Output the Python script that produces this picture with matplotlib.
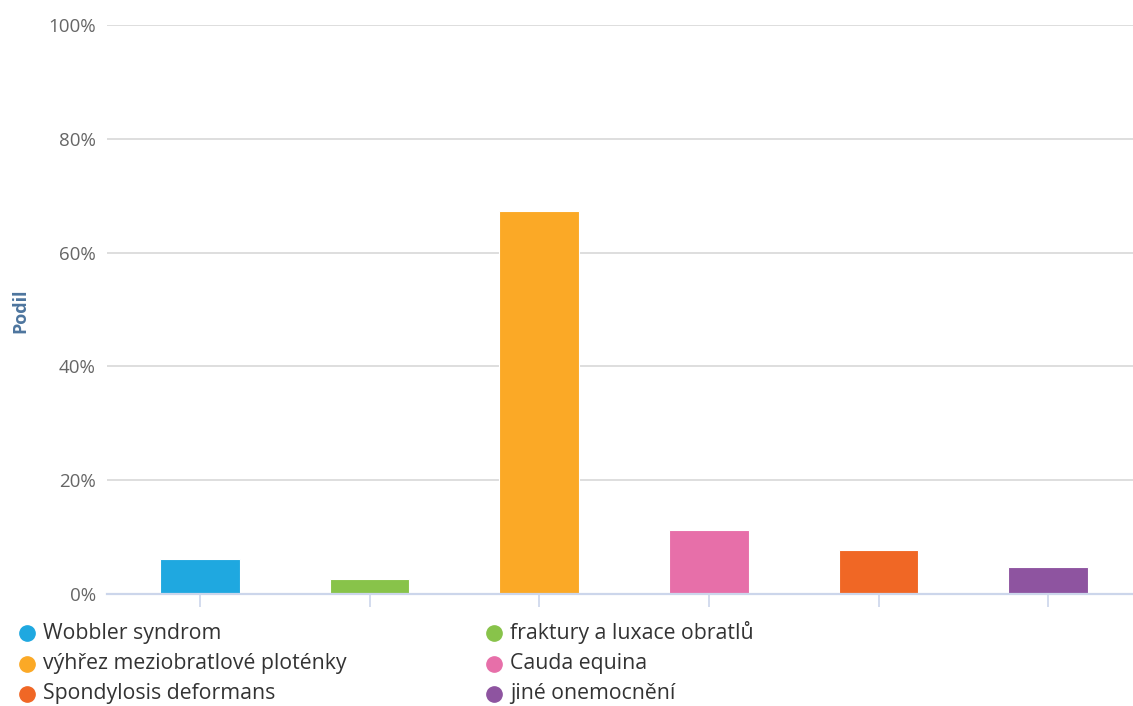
import matplotlib
matplotlib.use("Agg")
import matplotlib.pyplot as plt
from matplotlib.lines import Line2D

categories = ["Wobbler syndrom", "fraktury a luxace obratlů", "výhřez meziobratlové ploténky",
              "Cauda equina", "Spondylosis deformans", "jiné onemocnění"]
values = [6.1, 2.6, 67.3, 11.2, 7.7, 4.7]
colors = ["#1fa8e0", "#88c34a", "#fba926", "#e76fa9", "#f06725", "#8e54a0"]
yticks = [0, 20, 40, 60, 80, 100]
ytick_labels = ["0%", "20%", "40%", "60%", "80%", "100%"]

plt.rcParams['font.family'] = ['Open Sans', 'DejaVu Sans']

W, H = 1133, 706
fig = plt.figure(figsize=(W / 100, H / 100), dpi=100)
ax = fig.add_axes([107 / W, 1 - 594 / H, (1133 - 107) / W, (594 - 25) / H])

x = list(range(len(categories)))
ax.bar(x, values, width=0.47, color=colors, edgecolor="white", linewidth=0.8, zorder=3)

ax.set_ylim(0, 100)
ax.set_xlim(-0.548, 5.5)
ax.set_yticks(yticks)
ax.set_yticklabels(ytick_labels, color="#666666", fontsize=13.5)
ax.yaxis.grid(True, color="#d8d8d8", linewidth=1.2, zorder=0)
ax.tick_params(axis="y", length=0, pad=8)
ax.set_xticks(x)
ax.set_xticklabels([])
ax.tick_params(axis="x", length=9, width=1.2, color="#ccd6eb", direction="out")
for s in ["top", "right", "left"]:
    ax.spines[s].set_visible(False)
ax.spines["bottom"].set_color("#ccd6eb")
ax.spines["bottom"].set_linewidth(1.6)
ax.spines["bottom"].set_zorder(4)

fig.text(20 / W, 1 - 311 / H, "Podil", rotation=90, ha="center", va="center",
         fontsize=13, fontweight="bold", color="#4d759e")

# legend laid out in rows, two columns
col_x = [27, 494]
row_y = [633, 664, 694]
for i, (cat, c) in enumerate(zip(categories, colors)):
    r, cidx = divmod(i, 2)
    mx = col_x[cidx] / W
    my = 1 - row_y[r] / H
    fig.add_artist(Line2D([mx], [my], marker="o", markersize=11, color=c,
                          linestyle="none", transform=fig.transFigure))
    fig.text(mx + 16 / W, my, cat, ha="left", va="center", fontsize=15.3, color="#333333")

fig.savefig("out.png", dpi=100, facecolor="white")
